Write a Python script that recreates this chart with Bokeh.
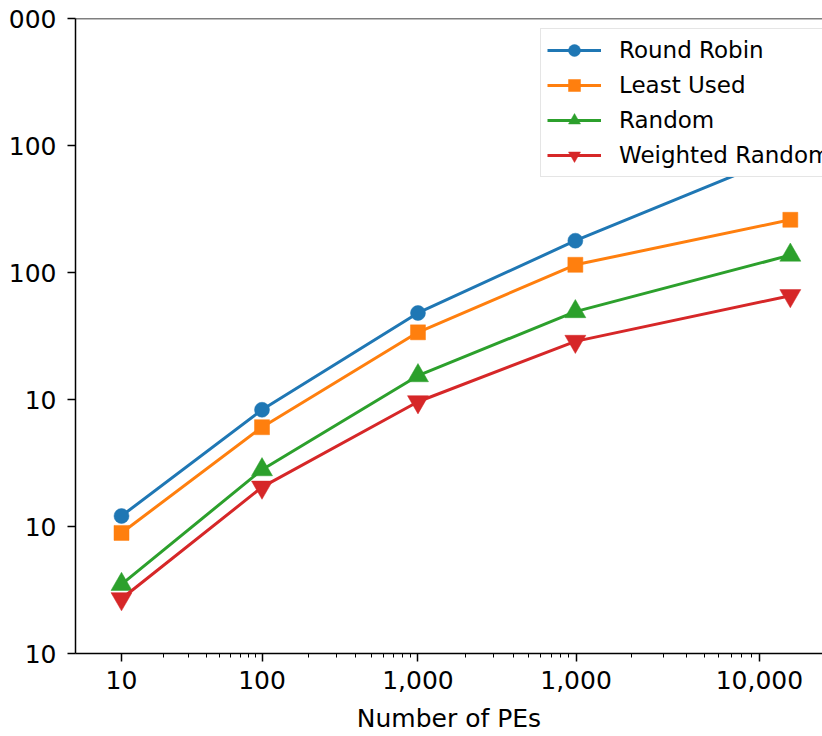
import numpy as np
from bokeh.plotting import figure
from bokeh.models import Range1d, FixedTicker, Span
from bokeh.embed import file_html
from bokeh.resources import INLINE

# ---- data ----
x_tick_labels = ["10", "100", "1,000", "1,000", "10,000"]
x_tick_pos = [1.0, 2.0, 3.11, 4.235, 5.54]
x_pos = [1.0, 2.0, 3.11, 4.23, 5.76]
y_ticks = [1, 10, 100, 1000, 10000, 100000]
y_tick_labels = ["10", "10", "10", "100", "100", "000"]

series_names = ["Round Robin", "Least Used", "Random", "Weighted Random"]
round_robin = [12.1, 83, 480, 1780, 8800]
least_used = [8.9, 60.5, 338, 1150, 2600]
random_sel = [3.5, 28, 154, 492, 1370]
weighted_random = [2.7, 20.4, 96, 287, 657]

colors = ["#1f77b4", "#ff7f0e", "#2ca02c", "#d62728"]
markers = ["circle", "square", "triangle", "inverted_triangle"]
sizes = [15, 15, 21, 21]

FONT = "DejaVu Sans"

p = figure(width=822, height=736, output_backend="svg", toolbar_location=None,
           x_range=Range1d(0.6726, 5.989), y_range=Range1d(1, 1e5),
           y_axis_type="log",
           min_border_left=75, min_border_right=0, min_border_top=18, min_border_bottom=83)
p.outline_line_color = None
p.grid.visible = False
p.background_fill_color = "white"
p.border_fill_color = "white"

for name, vals, c, m, s in zip(series_names,
                               [round_robin, least_used, random_sel, weighted_random],
                               colors, markers, sizes):
    p.line(x_pos, vals, line_color=c, line_width=3, legend_label=name)
    p.scatter(x_pos, vals, marker=m, size=s, fill_color=c, line_color=c, line_width=0.5,
              legend_label=name)

# x axis
minor = []
for a, b in zip(x_tick_pos[:-1], x_tick_pos[1:]):
    for k in range(2, 10):
        minor.append(a + np.log10(k) * (b - a))
p.xaxis.ticker = FixedTicker(ticks=x_tick_pos, minor_ticks=minor)
p.xaxis.major_label_overrides = {t: l for t, l in zip(x_tick_pos, x_tick_labels)}
p.xaxis.axis_label = "Number of PEs"

# y axis
p.yaxis.ticker = FixedTicker(ticks=y_ticks, minor_ticks=[])
p.yaxis.major_label_overrides = {t: l for t, l in zip(y_ticks, y_tick_labels)}

for ax in [p.xaxis[0], p.yaxis[0]]:
    ax.axis_line_color = "black"
    ax.axis_line_width = 1.5
    ax.major_tick_line_color = "black"
    ax.major_tick_line_width = 1.5
    ax.major_tick_out = 8
    ax.major_tick_in = 0
    ax.minor_tick_line_color = "black"
    ax.minor_tick_line_width = 1
    ax.minor_tick_out = 4
    ax.minor_tick_in = 0
    ax.major_label_text_font = FONT
    ax.major_label_text_font_size = "25px"
    ax.major_label_text_color = "black"
    ax.axis_label_text_font = FONT
    ax.axis_label_text_font_size = "25px"
    ax.axis_label_text_font_style = "normal"
    ax.axis_label_text_color = "black"

p.xaxis.major_label_standoff = 9
p.xaxis.axis_label_standoff = 12
p.yaxis.major_label_standoff = 11

# top spine
p.add_layout(Span(location=1e5, dimension="width", line_color="black", line_width=1.5))

leg = p.legend[0]
leg.location = (465, 476)
leg.label_text_font = FONT
leg.label_text_font_size = "23px"
leg.label_text_color = "black"
leg.glyph_width = 54
leg.glyph_height = 30
leg.label_height = 30
leg.spacing = 5
leg.padding = 6
leg.margin = 0
leg.label_standoff = 18
leg.border_line_color = "#cccccc"
leg.border_line_width = 1
leg.background_fill_color = "white"
leg.background_fill_alpha = 1.0

open("out.html", "w").write(file_html(p, INLINE))
